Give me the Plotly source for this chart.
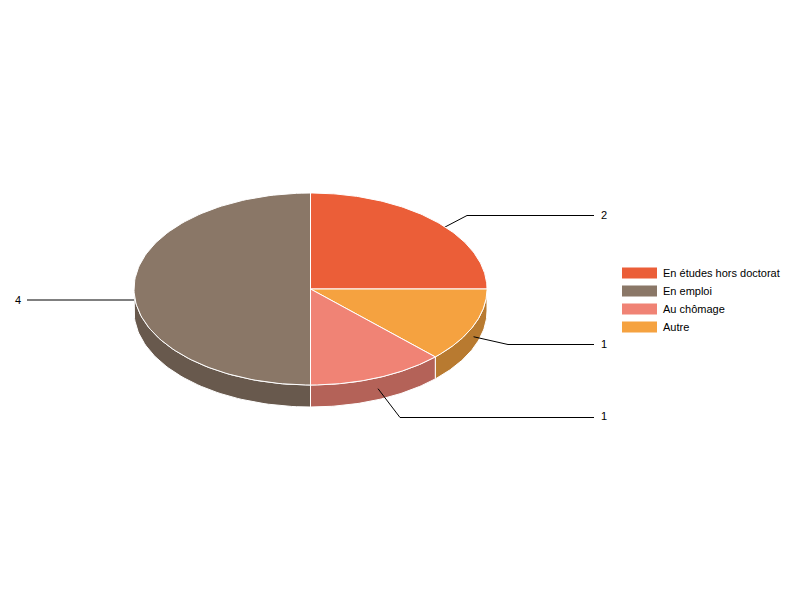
import numpy as np
import plotly.graph_objects as go

# Sample Data
categories = ['En études hors doctorat', 'En emploi', 'Au chômage', 'Autre']
values = [2, 4, 1, 1]
colors = ['#EB5E38', '#8A7767', '#F08375', '#F5A240']
dark_colors = ['#B04729', '#68594D', '#B46258', '#B87A30']

# slices go clockwise from 12 o'clock in this order (not the legend order)
slice_order = [0, 3, 2, 1]

# pie geometry, in pixels of the 800x600 page
cx, cy = 310.5, 289
rx, ry = 176.5, 96
depth = 22

# where each leader line bends and ends, one per category
elbow_x = [467, 27, 400, 508]
elbow_y = [215.5, 300, 417.5, 344.5]
line_end_x = [594, 27, 594, 594]
label_x = [599, 23, 599, 599]
label_y = [215, 300, 416, 344]

legend_y = [273, 291, 309, 327]


def rim(angles):
    # angles are degrees clockwise from the top
    t = np.radians(angles)
    return cx + rx * np.sin(t), cy - ry * np.cos(t)


fig = go.Figure()

# work out the angular span of each slice from the values
total = sum(values)
spans = {}
start = 0
for i in slice_order:
    end = start + 360 * values[i] / total
    spans[i] = (start, end)
    start = end

# Side walls, only the part facing the viewer (90 to 270 degrees)
for i in slice_order:
    a0, a1 = max(spans[i][0], 90), min(spans[i][1], 270)
    if a1 <= a0:
        continue
    x, y = rim(np.linspace(a0, a1, 60))
    fig.add_trace(go.Scatter(
        x=np.concatenate([x, x[::-1], x[:1]]),
        y=np.concatenate([y, y[::-1] + depth, y[:1]]),
        mode='lines',
        fill='toself',
        fillcolor=dark_colors[i],
        line=dict(color='white', width=1),
        hoverinfo='skip',
        showlegend=False,
    ))

# Leader lines sit on the walls but under the top faces
for i in slice_order:
    a0, a1 = spans[i]
    sx, sy = rim(np.array([(a0 + a1) / 2]))
    fig.add_trace(go.Scatter(
        x=[sx[0], elbow_x[i], line_end_x[i]],
        y=[sy[0] + depth / 2, elbow_y[i], elbow_y[i]],
        mode='lines',
        line=dict(color='black', width=1),
        hoverinfo='skip',
        showlegend=False,
    ))

# Top faces
for i in slice_order:
    a0, a1 = spans[i]
    x, y = rim(np.linspace(a0, a1, 120))
    fig.add_trace(go.Scatter(
        x=np.concatenate([[cx], x, [cx]]),
        y=np.concatenate([[cy], y, [cy]]),
        mode='lines',
        fill='toself',
        fillcolor=colors[i],
        line=dict(color='white', width=1),
        name=categories[i],
        text=f'{categories[i]}: {values[i]}',
        hoverinfo='text',
        showlegend=False,
    ))

# Value labels at the end of the leader lines
for i in slice_order:
    fig.add_annotation(
        x=label_x[i], y=label_y[i], text=str(values[i]), showarrow=False,
        xanchor='right' if label_x[i] < cx else 'left',
        font=dict(family='Liberation Sans', size=11, color='black'),
    )

# Legend, drawn by hand because the built-in swatches can't be this size
for i, name in enumerate(categories):
    fig.add_shape(
        type='rect', x0=622, x1=657, y0=legend_y[i] - 5.5, y1=legend_y[i] + 5.5,
        fillcolor=colors[i], line=dict(width=0),
    )
    fig.add_annotation(
        x=661, y=legend_y[i], text=name, showarrow=False, xanchor='left',
        font=dict(family='Liberation Sans', size=11, color='black'),
    )

fig.update_xaxes(range=[0, 800], visible=False)
fig.update_yaxes(range=[600, 0], visible=False)
fig.update_layout(
    width=800, height=600,
    margin=dict(l=0, r=0, t=0, b=0),
    paper_bgcolor='white',
    plot_bgcolor='white',
    showlegend=False,
)

# the page's default body margin would push the chart 8px off
fig.write_html(
    "out.html",
    config=dict(displayModeBar=False),
    post_script="document.body.style.margin='0';document.body.style.overflow='hidden';",
)
